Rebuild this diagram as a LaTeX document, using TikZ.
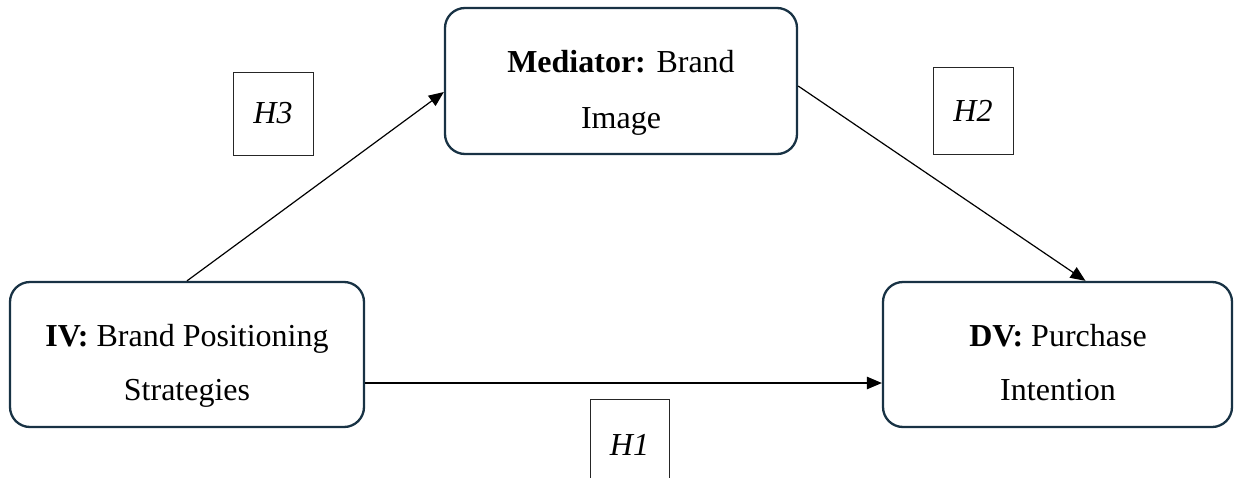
\documentclass[tikz,border=0pt]{standalone}
\usepackage{fontspec}
\setmainfont{Liberation Serif}
\usetikzlibrary{arrows.meta,calc}
\definecolor{boxline}{RGB}{24,50,68}
\tikzset{
  varbox/.style={draw=boxline, line width=2.3pt, rounded corners=20pt, inner sep=0pt, fill=none},
  txt/.style={anchor=base, inner sep=0pt, font=\fontsize{32}{38}\selectfont},
  hbox/.style={draw=black!85, line width=0.9pt, inner sep=0pt, minimum width=80pt, font=\fontsize{32}{38}\selectfont\itshape},
  arr/.style={draw=black, line width=1.2pt, -{Triangle[length=15pt,width=12.5pt]}}
}
\begin{document}
\begin{tikzpicture}[x=1pt,y=-1pt]
\useasboundingbox (0,0) rectangle (1235,477);
% main boxes
\node[varbox, minimum width=354pt, minimum height=145pt] (iv) at (187,354.5) {};
\node[varbox, minimum width=352pt, minimum height=146pt] (med) at (621,81) {};
\node[varbox, minimum width=349pt, minimum height=145pt] (dv) at (1057.5,354.5) {};
% texts
\node[txt] (ivA) at (187,346) {\textbf{IV:} Brand Positioning};
\node[txt] (ivB) at (187,400) {Strategies};
\node[txt] (medA) at (621,72) {\textbf{Mediator:} Brand};
\node[txt] (medB) at (621,128) {Image};
\node[txt] (dvA) at (1058,346) {\textbf{DV:} Purchase};
\node[txt] (dvB) at (1058,400) {Intention};
% hypothesis boxes
\node[hbox, minimum height=83pt] (h3) at (273,113.5) {H3};
\node[hbox, minimum height=87pt] (h2) at (973,110.5) {H2};
\node[hbox, minimum width=79pt, minimum height=91pt] (h1) at (629.5,444.5) {H1};
% arrows
\draw[arr] (iv.north) -- ($(med.west)+(0,11)$);
\draw[arr] ($(med.east)+(0,5)$) -- ($(dv.north)+(28,0)$);
\draw[arr] ($(iv.east)+(0,28.5)$) -- ($(dv.west)+(0,28.5)$);
\end{tikzpicture}
\end{document}
